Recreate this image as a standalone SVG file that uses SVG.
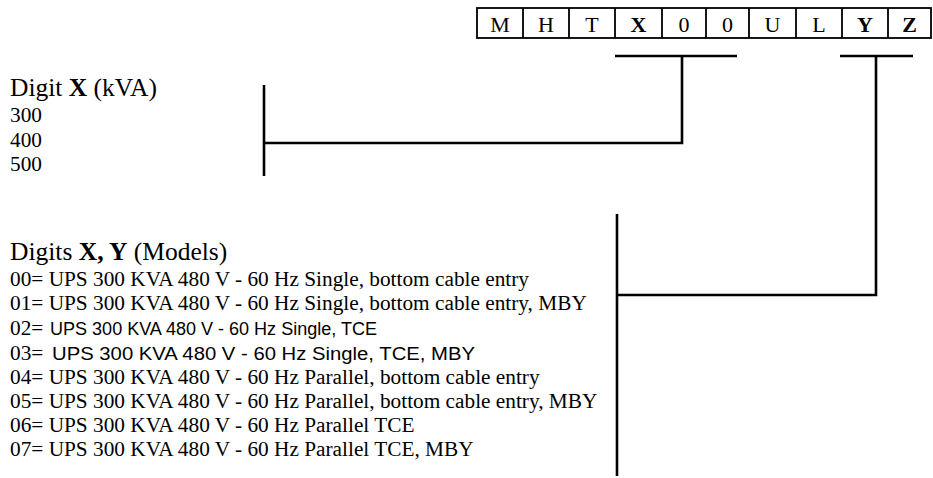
<svg xmlns="http://www.w3.org/2000/svg" width="933" height="478" viewBox="0 0 933 478">
<style>
.t{font-family:"Liberation Serif","Times New Roman",serif;fill:#000}
.h{font-size:25.5px}
.i{font-size:21.3px}
.c{font-size:22px;text-anchor:middle}
.b{font-weight:bold}
.s{font-family:"Liberation Sans",Arial,sans-serif;font-size:18px}
.cell{fill:none;stroke:#000;stroke-width:1.8}
.ln{fill:none;stroke:#000;stroke-width:2.6}
</style>
<rect width="933" height="478" fill="#fff"/>
<g id="code-table">
<rect class="cell" x="477" y="8" width="454" height="30"/>
<path class="cell" d="M523 8V38M569 8V38M615 8V38M662 8V38M706 8V38M749 8V38M796 8V38M842 8V38M888 8V38"/>
<text class="t c" x="500" y="32">M</text>
<text class="t c" x="546" y="32">H</text>
<text class="t c" x="592" y="32">T</text>
<text class="t c b" x="638.5" y="32">X</text>
<text class="t c" x="684" y="32">0</text>
<text class="t c" x="727.5" y="32">0</text>
<text class="t c" x="772.5" y="32">U</text>
<text class="t c" x="819" y="32">L</text>
<text class="t c b" x="865" y="32">Y</text>
<text class="t c b" x="909.5" y="32">Z</text>
</g>
<g id="digit-x">
<text class="t h" x="10" y="96">Digit <tspan class="b">X</tspan> (kVA)</text>
<text class="t i" x="10" y="122">300</text>
<text class="t i" x="10" y="147">400</text>
<text class="t i" x="10" y="171">500</text>
</g>
<g id="digits-xy">
<text class="t h" x="10" y="260">Digits <tspan class="b">X, Y</tspan> (Models)</text>
<text class="t i" x="10" y="286">00= UPS 300 KVA 480 V - 60 Hz Single, bottom cable entry</text>
<text class="t i" x="10" y="310">01= UPS 300 KVA 480 V - 60 Hz Single, bottom cable entry, MBY</text>
<text class="t i" x="10" y="335">02= <tspan class="s" x="50" textLength="327" lengthAdjust="spacingAndGlyphs">UPS 300 KVA 480 V - 60 Hz Single, TCE</tspan></text>
<text class="t i" x="10" y="360">03= <tspan class="s" x="52" textLength="423" lengthAdjust="spacingAndGlyphs">UPS 300 KVA 480 V - 60 Hz Single, TCE, MBY</tspan></text>
<text class="t i" x="10" y="384">04= UPS 300 KVA 480 V - 60 Hz Parallel, bottom cable entry</text>
<text class="t i" x="10" y="408">05= UPS 300 KVA 480 V - 60 Hz Parallel, bottom cable entry, MBY</text>
<text class="t i" x="10" y="432">06= UPS 300 KVA 480 V - 60 Hz Parallel TCE</text>
<text class="t i" x="10" y="456">07= UPS 300 KVA 480 V - 60 Hz Parallel TCE, MBY</text>
</g>
<g id="connectors">
<path class="ln" d="M615 56H737M682 56V143H264M264 85V176"/>
<path class="ln" d="M840 56H913M876 56V295H617M617 214V476"/>
</g>
</svg>
